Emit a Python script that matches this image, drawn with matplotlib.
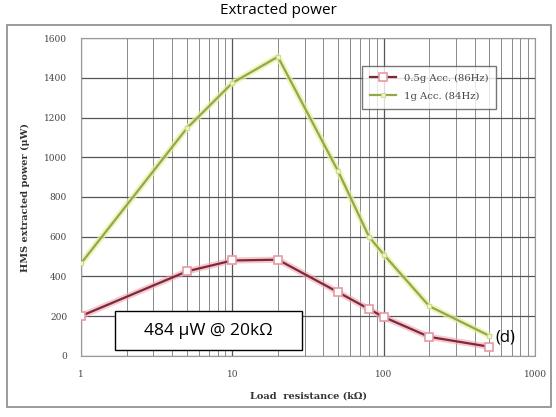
import matplotlib.pyplot as plt
from matplotlib.patches import Rectangle
from matplotlib.ticker import FixedLocator, LogLocator, NullFormatter

# load resistance (kOhm) and extracted power (uW)
r_half_g = [1, 5, 10, 20, 50, 80, 100, 200, 500]
p_half_g = [200, 425, 480, 484, 320, 235, 195, 95, 45]
r_one_g = [1, 5, 10, 20, 50, 80, 100, 200, 500]
p_one_g = [465, 1146, 1375, 1507, 930, 600, 510, 250, 100]

labels = ["0.5g Acc. (86Hz)", "1g Acc. (84Hz)"]
x_ticks = [1, 10, 100, 1000]
y_ticks = [0, 200, 400, 600, 800, 1000, 1200, 1400, 1600]

fig = plt.figure(figsize=(5.56, 4.17), dpi=100)
fig.patch.set_facecolor("white")

# outer frame around the chart
fig.add_artist(Rectangle((7 / 556, 1 - 407 / 417), 544 / 556, 382 / 417,
                         transform=fig.transFigure, fill=False,
                         edgecolor="#8a8a8a", linewidth=1.2))
fig.text(0.5, 0.975, "Extracted power", ha="center", va="center",
         fontsize=11, family="Open Sans")

ax = fig.add_axes([81 / 556, 1 - 355.7 / 417, 454 / 556, 317.4 / 417])
ax.set_xscale("log")
ax.set_xlim(1, 1000)
ax.set_ylim(0, 1600)

ax.xaxis.set_major_locator(FixedLocator(x_ticks))
ax.xaxis.set_minor_locator(LogLocator(base=10, subs=range(2, 10)))
ax.xaxis.set_minor_formatter(NullFormatter())
ax.set_xticks(x_ticks)
ax.set_xticklabels([str(v) for v in x_ticks])
ax.set_yticks(y_ticks)
ax.set_yticklabels([str(v) for v in y_ticks])

ax.grid(True, which="major", color="#555555", linewidth=0.9)
ax.grid(True, which="minor", axis="x", color="#777777", linewidth=0.6)
ax.tick_params(which="both", length=0, labelsize=6.5, colors="#444444", pad=10)
for lbl in ax.get_xticklabels() + ax.get_yticklabels():
    lbl.set_family("DejaVu Serif")
for s in ax.spines.values():
    s.set_color("#999999")

# soft halo under each line, then the line itself
ax.plot(r_half_g, p_half_g, color="#f2a6b0", linewidth=4.5, alpha=0.6, zorder=2)
ax.plot(r_half_g, p_half_g, color="#7a2a3a", linewidth=1.6, marker="s",
        markersize=6, markerfacecolor="white", markeredgecolor="#e59aa6",
        markeredgewidth=1.2, label=labels[0], zorder=3)
ax.plot(r_one_g, p_one_g, color="#e9f0a0", linewidth=4.5, alpha=0.7, zorder=2)
ax.plot(r_one_g, p_one_g, color="#93a84a", linewidth=1.6, marker="s",
        markersize=3, markerfacecolor="#eef3c8", markeredgecolor="#c8d68a",
        markeredgewidth=0.6, label=labels[1], zorder=3)

leg = ax.legend(loc="upper left", bbox_to_anchor=(0.607, 0.93),
                frameon=True, fancybox=False, handlelength=2.6,
                borderpad=0.8, labelspacing=0.9,
                prop={"family": "DejaVu Serif", "size": 7.2})
leg.get_frame().set_edgecolor("#555555")
leg.get_frame().set_linewidth(1.0)
for t in leg.get_texts():
    t.set_color("#444444")

ax.set_xlabel("Load  resistance (k\u03a9)", fontsize=7, family="DejaVu Serif",
              fontweight="bold", color="#333333", labelpad=9)
ax.set_ylabel("HMS extracted power (\u03bcW)", fontsize=7, family="DejaVu Serif",
              fontweight="bold", color="#333333", labelpad=10)

# annotation box for the 0.5g peak
ax.add_patch(Rectangle((0.0749, 0.018), 0.412, 0.123, transform=ax.transAxes,
                       facecolor="white", edgecolor="black", linewidth=1.0,
                       zorder=5))
ax.text(0.281, 0.079, "484 \u03bcW @ 20k\u03a9", transform=ax.transAxes,
        ha="center", va="center", fontsize=12.5, family="Open Sans", zorder=6)
ax.text(0.934, 0.056, "(d)", transform=ax.transAxes, ha="center",
        va="center", fontsize=12, family="Open Sans", zorder=6)

fig.savefig("out.png", dpi=100)
